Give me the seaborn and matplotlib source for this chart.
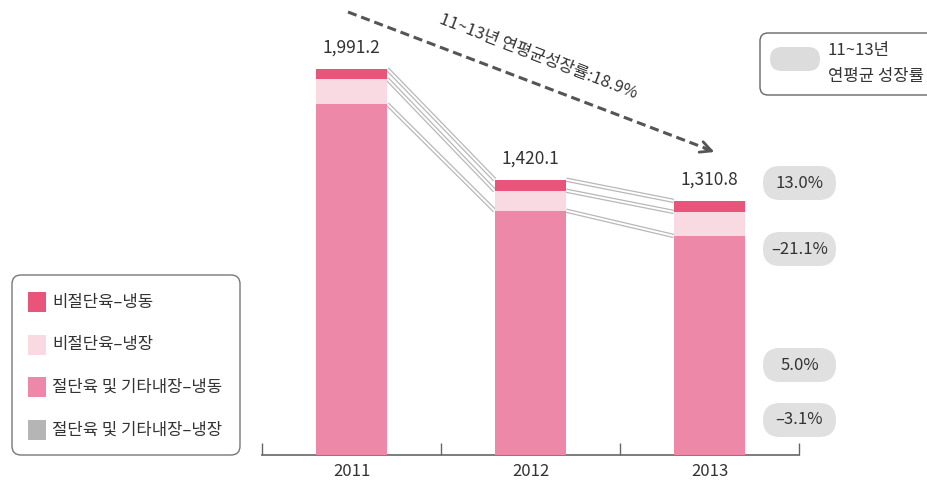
import numpy as np
import pandas as pd
import matplotlib
matplotlib.use("Agg")
import matplotlib.pyplot as plt
import seaborn as sns
from matplotlib.patches import FancyBboxPatch, Rectangle

sns.set_style("white")
plt.rcParams['font.family'] = ['Noto Sans CJK KR', 'DejaVu Sans']

# data
years = ['2011', '2012', '2013']
totals = [1991.2, 1420.1, 1310.8]
nonc_frozen = [52.0, 57.0, 57.0]          # 비절단육-냉동 (top)
nonc_chilled = [129.0, 103.0, 124.0]      # 비절단육-냉장
cut_frozen = [1810.2, 1260.1, 1129.8]     # 절단육 및 기타내장-냉동
cut_chilled = [0.0, 0.0, 0.0]             # 절단육 및 기타내장-냉장
series_names = ['비절단육–냉동', '비절단육–냉장', '절단육 및 기타내장–냉동', '절단육 및 기타내장–냉장']
growth_labels = ['13.0%', '–21.1%', '5.0%', '–3.1%']
cagr_text = '11~13년 연평균성장률:18.9%'
colors = ['#E9547A', '#FADAE2', '#EE88A8', '#B5B5B5']

df = pd.DataFrame({'year': years, 'c0': cut_chilled, 'c1': cut_frozen,
                   'c2': nonc_chilled, 'c3': nonc_frozen})
# cumulative tops, from the bottom layer up
df['t0'] = df['c0']
df['t1'] = df['t0'] + df['c1']
df['t2'] = df['t1'] + df['c2']
df['t3'] = df['t2'] + df['c3']

fig = plt.figure(figsize=(9.28, 4.87), dpi=100)
ax = fig.add_axes([262/928, 32/487, 537/928, 455/487])

# stacked bars: draw tallest first
for col, c in [('t3', colors[0]), ('t2', colors[1]), ('t1', colors[2]), ('t0', colors[3])]:
    sns.barplot(data=df, x='year', y=col, color=c, width=0.4, saturation=1, ax=ax,
                zorder=3, linewidth=0, edgecolor='none')

ax.set_xlim(-0.5, 2.5)
ax.set_ylim(0, 2347)
ax.set_xlabel('')
ax.set_ylabel('')
ax.set_yticks([])
for s in ['top', 'left', 'right']:
    ax.spines[s].set_visible(False)
ax.spines['bottom'].set_color('#666666')
ax.spines['bottom'].set_linewidth(1.2)
ax.set_xticks(range(3))
ax.set_xticklabels(years, fontsize=12, color='#333333')
ax.tick_params(axis='x', which='major', bottom=True, length=0, pad=6)
ax.set_xticks([-0.5, 0.5, 1.5, 2.5], minor=True)
ax.tick_params(axis='x', which='minor', bottom=True, direction='in', length=9,
               color='#666666', width=1)
ax.patch.set_alpha(0)

# connector lines between bars
hw = 0.2
for i in range(2):
    for col in ['t1', 't2', 't3']:
        xs = [i + hw, i + 1 - hw]
        ys = [df[col][i], df[col][i + 1]]
        ax.plot(xs, ys, color='#b8b8b8', lw=3.2, zorder=1, solid_capstyle='butt')
        ax.plot(xs, ys, color='white', lw=1.4, zorder=2, solid_capstyle='butt')

# total labels
for i, t in enumerate(totals):
    ax.text(i, t + 110, f'{t:,.1f}', ha='center', va='center', fontsize=12.5, color='#333333')

# overlay in pixel coordinates for the decorations
ov = fig.add_axes([0, 0, 1, 1])
ov.set_xlim(0, 928)
ov.set_ylim(487, 0)
ov.axis('off')
ov.patch.set_alpha(0)

# dashed trend arrow
ov.plot([348, 710], [12, 150], color='#555555', lw=2.2, dashes=(3, 1.6))
ov.annotate('', xy=(717, 153), xytext=(702, 147.3),
            arrowprops=dict(arrowstyle='->', color='#555555', lw=2.0, mutation_scale=20))
ov.text(538, 57, cagr_text, rotation=-21, ha='center', va='center', fontsize=12, color='#333333')

# growth boxes
for lab, yc in zip(growth_labels, [183, 249, 365, 420]):
    ov.add_patch(FancyBboxPatch((763, yc - 17), 73, 34, boxstyle='round,pad=0,rounding_size=17',
                                fc='#E0E0E0', ec='none'))
    ov.text(799.5, yc, lab, ha='center', va='center', fontsize=12, color='#333333')

# top-right key
ov.add_patch(FancyBboxPatch((760, 33), 190, 62, boxstyle='round,pad=0,rounding_size=8',
                            fc='white', ec='#666666', lw=1, clip_on=False))
ov.add_patch(FancyBboxPatch((770, 47), 50, 24, boxstyle='round,pad=0,rounding_size=12',
                            fc='#DCDCDC', ec='none'))
ov.text(828, 50, '11~13년', ha='left', va='center', fontsize=12, color='#333333')
ov.text(828, 77, '연평균 성장률', ha='left', va='center', fontsize=12, color='#333333')

# left legend
ov.add_patch(FancyBboxPatch((12, 275), 228, 180, boxstyle='round,pad=0,rounding_size=9',
                            fc='white', ec='#777777', lw=1))
for name, c, yc in zip(series_names, colors, [302, 345, 387, 430]):
    ov.add_patch(Rectangle((28, yc - 10), 18, 20, fc=c, ec='none'))
    ov.text(52, yc, name, ha='left', va='center', fontsize=12, color='#333333')

fig.savefig('out.png', dpi=100)
